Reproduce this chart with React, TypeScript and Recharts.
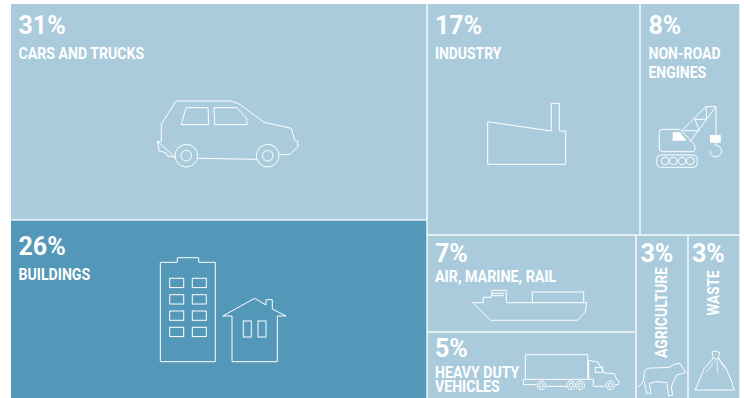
import React from "react"
import { Treemap } from "recharts"

const sectorNames = [
  "CARS AND TRUCKS",
  "BUILDINGS",
  "INDUSTRY",
  "NON-ROAD ENGINES",
  "AIR, MARINE, RAIL",
  "HEAVY DUTY VEHICLES",
  "AGRICULTURE",
  "WASTE",
]
const sectorShares = [31, 26, 17, 8, 7, 5, 3, 3]

const LIGHT = "#aacbdc"
const DARK = "#5397b9"
const FONT = "Roboto, sans-serif"
const CHART_W = 729
const CHART_H = 397
const GAP = 1.3

const leaf = (i: number) => ({ name: sectorNames[i], value: sectorShares[i] })

// grouping decides how the treemap slices the area
const treeData = [
  { name: "road and buildings", children: [leaf(0), leaf(1)] },
  {
    name: "everything else",
    children: [
      { name: "upper", children: [leaf(2), leaf(3)] },
      {
        name: "lower",
        children: [
          { name: "transport", children: [leaf(4), leaf(5)] },
          // these two sit side by side, the cell splits itself by value
          { name: "narrow", value: sectorShares[6] + sectorShares[7], columns: [leaf(6), leaf(7)] },
        ],
      },
    ],
  },
]

type LabelLine = { text: string; width: number; dy: number }
type LabelStyle = {
  pctX: number
  pctY: number
  lines?: LabelLine[]
  rotated?: { width: number; x: number; y: number }
}

const labelStyles: Record<string, LabelStyle> = {
  "CARS AND TRUCKS": { pctX: 7.5, pctY: 29.5, lines: [{ text: "CARS AND TRUCKS", width: 125.7, dy: 54.5 }] },
  BUILDINGS: { pctX: 7.5, pctY: 35, lines: [{ text: "BUILDINGS", width: 71.7, dy: 59.7 }] },
  INDUSTRY: { pctX: 8, pctY: 29.5, lines: [{ text: "INDUSTRY", width: 66.3, dy: 54.5 }] },
  "NON-ROAD ENGINES": {
    pctX: 8.5,
    pctY: 29.5,
    lines: [
      { text: "NON-ROAD", width: 72, dy: 54.5 },
      { text: "ENGINES", width: 57.7, dy: 73.5 },
    ],
  },
  "AIR, MARINE, RAIL": { pctX: 8, pctY: 27, lines: [{ text: "AIR, MARINE, RAIL", width: 121.3, dy: 46.5 }] },
  "HEAVY DUTY VEHICLES": {
    pctX: 8,
    pctY: 25,
    lines: [
      { text: "HEAVY DUTY", width: 84.3, dy: 46 },
      { text: "VEHICLES", width: 64.7, dy: 59.5 },
    ],
  },
  AGRICULTURE: { pctX: 4.5, pctY: 27, rotated: { width: 91, x: 30.5, y: 123 } },
  WASTE: { pctX: 4, pctY: 27, rotated: { width: 45, x: 30.5, y: 80.5 } },
}

const Line = (p: React.SVGProps<SVGPathElement>) => (
  <path fill="none" stroke="#fff" strokeWidth={1} strokeLinejoin="round" {...p} />
)

// icons are drawn in page pixels, the wrapper below moves them into chart space
const CarIcon = () => (
  <>
    <Line d="M157.3 141.3H161.3V124.3L176 101H230.7L238.7 103.7L264 122.3L291.3 128.3L294.7 140.3L297.7 141V147L290 154.3L279.3 154.7M256.7 159.3L198 158.3M175.3 157.3L167.3 156L166 152.7L159.3 151L157.3 141.3Z" />
    <circle cx={186.3} cy={155.7} r={11.3} fill="none" stroke="#fff" />
    <circle cx={186.3} cy={155.7} r={5.3} fill="none" stroke="#fff" />
    <circle cx={267.7} cy={155.7} r={11.3} fill="none" stroke="#fff" />
    <circle cx={267.7} cy={155.7} r={5.3} fill="none" stroke="#fff" />
    <Line d="M186 107.7H208L208.7 124.7H181.3Z" />
    <Line d="M214 107.7H236.7L246.7 118.3L247 124.7H214.7Z" />
  </>
)

const towerWindowXs = [169.7, 192.3]
const towerWindowYs = [278.3, 294.7, 311, 327.3]

const BuildingsIcon = () => (
  <>
    <Line d="M160.3 262.3H177.3V257.7H198.7V262.3H215.3V361.7H160.3Z" />
    {towerWindowXs.map((wx) =>
      towerWindowYs.map((wy) => (
        <rect key={`${wx}-${wy}`} x={wx} y={wy} width={14} height={9.3} fill="none" stroke="#fff" />
      )),
    )}
    <Line d="M222.7 316L254.7 298.3L266 305V299.7H272.3V309L286 316H277.3V361.7H232V316Z" />
    <rect x={243.3} y={321} width={8} height={16} fill="none" stroke="#fff" />
    <rect x={258} y={321} width={8} height={16} fill="none" stroke="#fff" />
  </>
)

const FactoryIcon = () => (
  <Line d="M487.7 121.7L551.3 131V103.3H559.3V131H565.7V164.3H487.7Z" />
)

const trackWheelXs = [665, 673.3, 682, 690.3]

const CraneIcon = () => (
  <>
    <Line d="M662.5 129.3H680L693.5 143.5Q695.5 146 695 149Q695 151.7 692 151.7H662.5Q659.3 151.7 659.3 148.5V132.5Q659.3 129.3 662.5 129.3Z" />
    <path d="M672.7 132.3H680L686.7 140.7H672.7Z" fill="#fff" />
    <Line d="M681.7 130.7L706 106.7H716L690 141.7" />
    <Line d="M683.3 130.7H699.3L695 119.3H706.7L706 106.7" />
    <Line d="M716 106.7V135" />
    <rect x={710} y={135} width={10.7} height={7.7} fill="#fff" />
    <Line d="M715.7 142.7V145.3A5.8 5.8 0 1 1 709.9 151" />
    <rect x={656.7} y={155} width={40.6} height={12.3} rx={4} fill="none" stroke="#fff" />
    {trackWheelXs.map((cx) => (
      <circle key={cx} cx={cx} cy={161} r={3.8} fill="none" stroke="#fff" />
    ))}
  </>
)

const ShipIcon = () => (
  <>
    <Line d="M472.7 302.7H483.3V297.3H491.7V290.3H506.3V302.7H586.7L585 312.3L577.3 320.3H490.7Z" />
    <Line d="M532.3 302.7V292H583.7V302.7" />
    <Line d="M492.7 293.3H503V295.7H492.7Z" />
  </>
)

const truckWheelXs = [541.3, 571, 580.3, 610.3]

const TruckIcon = () => (
  <>
    <Line d="M525.3 378.7V354.7H587.7V378.7" />
    <Line d="M588.7 360.3L597.7 362L604.3 373L614.3 373.7L616.7 379.7L618.7 380.3V384.7H615.3" />
    <Line d="M588.7 360.3V379.3M523.3 379.3H593.3V386.3H605.3M523.3 379.3V384.7H536M546 386.3H566.7" />
    <rect x={595.3} y={367.3} width={7.4} height={5} fill="none" stroke="#fff" />
    {truckWheelXs.map((cx) => (
      <React.Fragment key={cx}>
        <circle cx={cx} cy={385.3} r={4.3} fill="none" stroke="#fff" />
        <circle cx={cx} cy={385.3} r={2} fill="none" stroke="#fff" />
      </React.Fragment>
    ))}
  </>
)

const CowIcon = () => (
  <Line d="M638 387.3L643.3 381.7L644.3 371.7L646.7 368.3L669.3 367.3L675.3 364L680 363.3L682.7 368.3L686 372.3L681 374L676.7 375L673.3 381.7L671.3 387.3L672.7 395L668.7 396L666.7 382.7L656 381.7L649.3 383.3L651 393.3L646.7 393.3L644.3 381.7" />
)

const BagIcon = () => (
  <>
    <Line d="M713.3 358.3L712 351.7L716 351L720 352.7L718.3 356.7L719.3 359.3Z" />
    <Line d="M713.3 358.3L704.3 368.3L699.3 380L695.3 390H734.3L731 380L726 368.3L719.3 359.3" />
    <Line d="M715.3 360.7L706.7 371.7M717 360.7L717.7 373.3M719.3 360.7L725.3 368.3" strokeWidth={0.7} />
  </>
)

const sectorIcons: Record<string, () => React.ReactElement> = {
  "CARS AND TRUCKS": CarIcon,
  BUILDINGS: BuildingsIcon,
  INDUSTRY: FactoryIcon,
  "NON-ROAD ENGINES": CraneIcon,
  "AIR, MARINE, RAIL": ShipIcon,
  "HEAVY DUTY VEHICLES": TruckIcon,
  AGRICULTURE: CowIcon,
  WASTE: BagIcon,
}

type Box = { x: number; y: number; width: number; height: number; name: string; value: number }

function Sector({ x, y, width, height, name, value }: Box) {
  const style = labelStyles[name]
  const Icon = sectorIcons[name]
  // white gap is split between neighbours, outer edges stay flush
  const rx = x > 1 ? x + GAP / 2 : x
  const ry = y > 1 ? y + GAP / 2 : y
  return (
    <g>
      <rect
        x={rx}
        y={ry}
        width={x + width - GAP / 2 - rx}
        height={y + height - GAP / 2 - ry}
        fill={name === "BUILDINGS" ? DARK : LIGHT}
      />
      <text x={x + style.pctX} y={y + style.pctY} fill="#fff" fontFamily={FONT} fontSize={25} fontWeight={700}>
        {value}%
      </text>
      {style.lines?.map((line) => (
        <text
          key={line.text}
          x={x + style.pctX}
          y={y + line.dy}
          fill="#fff"
          fontFamily={FONT}
          fontSize={16.5}
          fontWeight={700}
          textLength={line.width}
          lengthAdjust="spacingAndGlyphs"
        >
          {line.text}
        </text>
      ))}
      {style.rotated && (
        <text
          transform={`translate(${x + style.rotated.x},${y + style.rotated.y}) rotate(-90)`}
          fill="#fff"
          fontFamily={FONT}
          fontSize={16.5}
          fontWeight={700}
          textLength={style.rotated.width}
          lengthAdjust="spacingAndGlyphs"
        >
          {name}
        </text>
      )}
      <g transform="translate(-11,-4)">
        <Icon />
      </g>
    </g>
  )
}

function SectorCell(props: any) {
  const { x, y, width, height, name, value, children, columns } = props
  if (children && children.length) return null
  if (columns) {
    const total = columns.reduce((sum: number, c: { value: number }) => sum + c.value, 0)
    let left = x
    return (
      <g>
        {columns.map((c: { name: string; value: number }) => {
          const w = (width * c.value) / total
          const cell = <Sector key={c.name} x={left} y={y} width={w} height={height} name={c.name} value={c.value} />
          left += w
          return cell
        })}
      </g>
    )
  }
  if (!labelStyles[name]) return null
  return <Sector x={x} y={y} width={width} height={height} name={name} value={value} />
}

export default function App() {
  return (
    <div style={{ position: "fixed", inset: 0, overflow: "hidden", background: "#fff" }}>
      <div style={{ position: "absolute", left: 11, top: 4 }}>
        <Treemap
          width={CHART_W}
          height={CHART_H}
          data={treeData}
          dataKey="value"
          aspectRatio={1.49}
          isAnimationActive={false}
          isUpdateAnimationActive={false}
          content={<SectorCell />}
        />
      </div>
    </div>
  )
}
